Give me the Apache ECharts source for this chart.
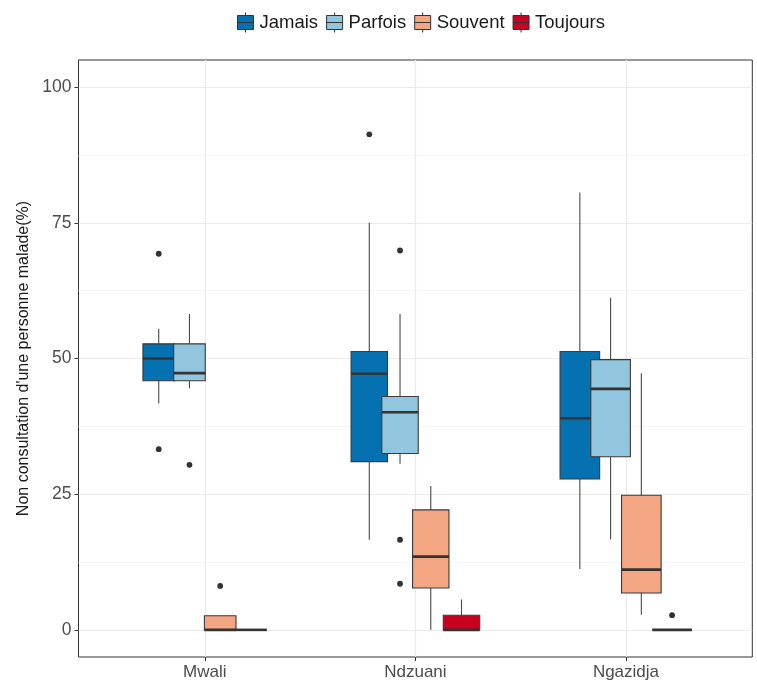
<!DOCTYPE html>
<html>
<head>
<meta charset="utf-8">
<script src="https://cdn.jsdelivr.net/npm/echarts@6/dist/echarts.min.js"></script>
<style>
html,body{margin:0;padding:0;background:#fff;}
#chart{width:757px;height:686px;}
</style>
</head>
<body>
<div id="chart"></div>
<script>
// ---- data ----
const categories = ['Mwali', 'Ndzuani', 'Ngazidja'];
const levels = ['Jamais', 'Parfois', 'Souvent', 'Toujours'];
const yTicks = [0, 25, 50, 75, 100];
const yMinorTicks = [12.5, 37.5, 62.5, 87.5];
const yTitle = "Non consultation d'une personne malade(%)";

// box stats per category: [min, Q1, median, Q3, max]
const jamaisBox   = [[41.7, 45.9, 50.0, 52.7, 55.5], [16.6, 31.0, 47.2, 51.3, 75.0], [11.2, 27.8, 39.0, 51.3, 80.6]];
const parfoisBox  = [[44.5, 45.9, 47.3, 52.7, 58.2], [30.6, 32.5, 40.1, 43.0, 58.2], [16.7, 31.9, 44.4, 49.8, 61.2]];
const souventBox  = [[0, 0, 0, 2.6, 2.6], [0, 7.7, 13.5, 22.1, 26.5], [2.8, 6.8, 11.1, 24.8, 47.3]];
const toujoursBox = [[0, 0, 0, 0, 0], [0, 0, 0, 2.7, 5.6], [0, 0, 0, 0, 0]];

// outliers: [category, value]
const jamaisOut   = [['Mwali', 69.3], ['Mwali', 33.3], ['Ndzuani', 91.3]];
const parfoisOut  = [['Mwali', 30.4], ['Ndzuani', 69.9], ['Ndzuani', 16.6], ['Ndzuani', 8.5]];
const souventOut  = [['Mwali', 8.1]];
const toujoursOut = [['Ngazidja', 2.7]];

const colors = ['#0571B0', '#92C5DE', '#F4A582', '#CA0020'];
const boxes = [jamaisBox, parfoisBox, souventBox, toujoursBox];
const outs = [jamaisOut, parfoisOut, souventOut, toujoursOut];

// ---- layout style ----
const BOX_W = [0.150, 0.173, 0.188]; // box width (axis units) per category
const STEP = 0.146;                    // dodge step (axis units)

function boxRenderer(s) {
  return function (params, api) {
    const ci = api.value(0);
    const unit = api.size([1, 0])[0];
    const w = BOX_W[ci] * unit;
    const cx = api.coord([ci, 0])[0] + (s - 1.5) * STEP * unit;
    const y = (k) => api.coord([ci, api.value(k)])[1];
    const yMin = y(1), yQ1 = y(2), yMed = y(3), yQ3 = y(4), yMax = y(5);
    const whisk = { stroke: '#4a4a4a', lineWidth: 1.1 };
    return {
      type: 'group',
      children: [
        { type: 'line', shape: { x1: cx, y1: yQ3, x2: cx, y2: yMax }, style: whisk },
        { type: 'line', shape: { x1: cx, y1: yMin, x2: cx, y2: yQ1 }, style: whisk },
        { type: 'rect', shape: { x: cx - w / 2, y: yQ3, width: w, height: yQ1 - yQ3 },
          style: { fill: api.visual('color'), stroke: '#3a3a3a', lineWidth: 1.1 } },
        { type: 'line', shape: { x1: cx - w / 2, y1: yMed, x2: cx + w / 2, y2: yMed },
          style: { stroke: '#333333', lineWidth: 2.6 } }
      ]
    };
  };
}
function outRenderer(s) {
  return function (params, api) {
    const ci = api.value(0);
    const unit = api.size([1, 0])[0];
    const p = api.coord([ci, api.value(1)]);
    return { type: 'circle', shape: { cx: p[0] + (s - 1.5) * STEP * unit, cy: p[1], r: 2.9 },
             style: { fill: '#333333' } };
  };
}

const series = [];
levels.forEach((lv, s) => {
  series.push({
    name: lv, type: 'custom', renderItem: boxRenderer(s),
    itemStyle: { color: colors[s] },
    encode: { x: 0, y: [1, 2, 3, 4, 5] },
    data: boxes[s].map((r, i) => [i].concat(r)),
    z: 3
  });
});
levels.forEach((lv, s) => {
  series.push({
    name: lv + '_out', type: 'custom', renderItem: outRenderer(s),
    itemStyle: { color: '#333333' },
    encode: { x: 0, y: 1 },
    data: outs[s].map(o => [categories.indexOf(o[0]), o[1]]),
    z: 4
  });
});

const iconPath = 'path://M0,3 L16,3 L16,17 L0,17 Z M0,10 L16,10 M8,0 L8,3 M8,17 L8,20';

const chart = echarts.init(document.getElementById('chart'), null, { renderer: 'canvas' });
chart.setOption({
  animation: false,
  backgroundColor: '#ffffff',
  textStyle: { fontFamily: 'Liberation Sans, Arial, sans-serif' },
  legend: {
    data: levels.map(l => ({ name: l, icon: iconPath })),
    top: 12, left: 237, padding: 0,
    itemWidth: 18, itemHeight: 20, itemGap: 8,
    itemStyle: { borderColor: '#333333', borderWidth: 1 },
    textStyle: { fontSize: 18.5, color: '#1a1a1a' }
  },
  grid: {
    left: 78.5, right: 4.7, top: 60, bottom: 29,
    show: true, borderColor: '#333333', borderWidth: 1, backgroundColor: 'transparent'
  },
  xAxis: {
    type: 'value', min: -0.6, max: 2.6,
    axisLine: { show: false, onZero: false },
    axisTick: { show: true, inside: false, customValues: [0, 1, 2], length: 4, lineStyle: { color: '#333333' } },
    axisLabel: { customValues: [0, 1, 2], formatter: v => categories[Math.round(v)] || '',
                 fontSize: 17, color: '#4d4d4d', margin: 7 },
    splitLine: { show: true, lineStyle: { color: '#ebebeb', width: 1.2 } }
  },
  yAxis: [{
    type: 'value', min: -5, max: 105,
    name: yTitle, nameLocation: 'middle', nameGap: 45,
    nameTextStyle: { fontSize: 16, color: '#1a1a1a' },
    axisLine: { show: false, onZero: false },
    axisTick: { show: true, inside: false, customValues: yTicks, length: 4, lineStyle: { color: '#333333' } },
    axisLabel: { customValues: yTicks, fontSize: 17.5, color: '#4d4d4d', margin: 7 },
    splitLine: { show: true, lineStyle: { color: '#ebebeb', width: 1.2 } }
  }, {
    type: 'value', min: -5, max: 105, position: 'left',
    axisLine: { show: false, onZero: false },
    axisTick: { show: false, customValues: yMinorTicks },
    axisLabel: { show: false, customValues: yMinorTicks },
    splitLine: { show: true, lineStyle: { color: '#f2f2f2', width: 0.8 } }
  }],
  series: series
});
</script>
</body>
</html>
